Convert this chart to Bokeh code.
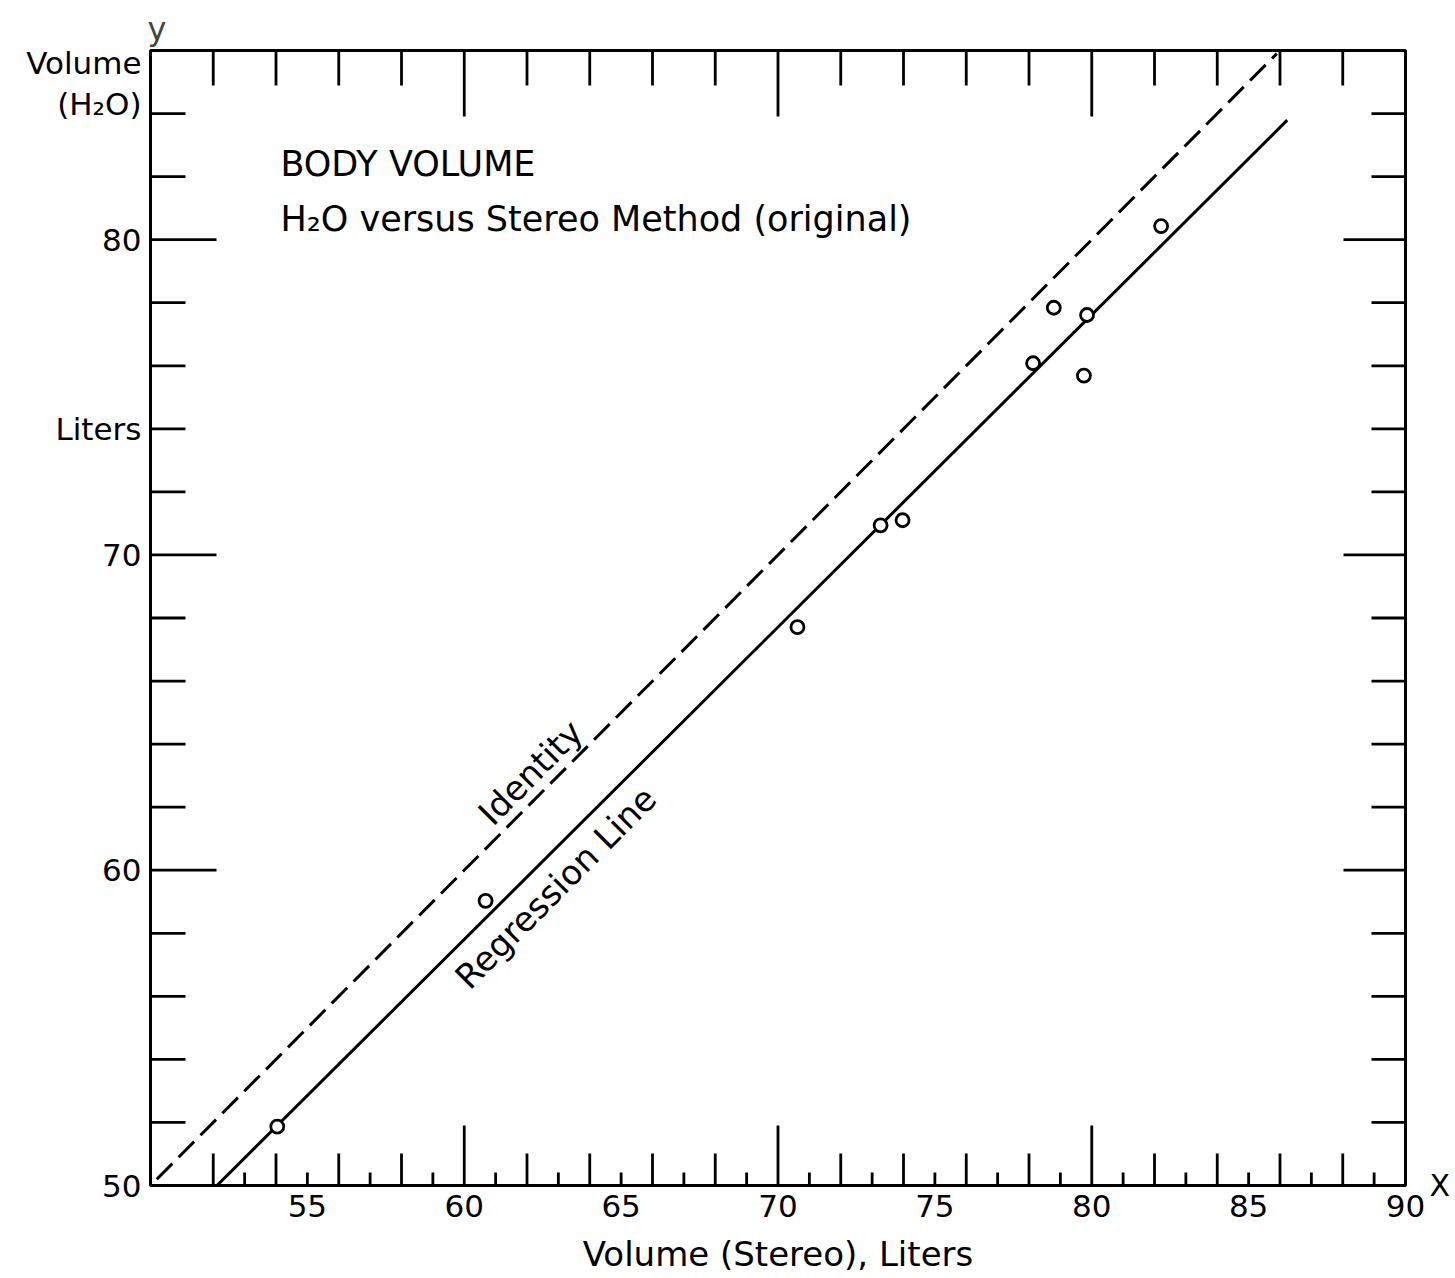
import math
from bokeh.plotting import figure
from bokeh.models import Range1d, FixedTicker, LinearAxis
from bokeh.core.properties import value
from bokeh.embed import file_html
from bokeh.resources import INLINE

# ---- data ----
stereo_x = [54.04, 60.68, 70.62, 73.27, 73.97, 78.13, 78.79, 79.75, 79.85, 82.21]
h2o_y = [51.87, 59.03, 67.71, 70.94, 71.10, 76.08, 77.84, 75.69, 77.61, 80.43]

identity_x = [50.2, 85.9]
identity_y = [50.2, 85.9]
regression_x = [52.12, 86.23]
regression_y = [50.0, 83.79]

x_tick_labels = [55, 60, 65, 70, 75, 80, 85, 90]
y_tick_values = [50, 60, 70, 74, 80, 84.3, 85.6]
y_tick_text = {50: "50", 74: "Liters", 84.3: "(H\u2082O)", 85.6: "Volume"}
bottom_ticks = list(range(52, 90))
top_ticks = list(range(52, 90, 2))
side_ticks = list(range(52, 86, 2))
long_ticks = [60, 70, 80]

FONT = "DejaVu Sans"

p = figure(width=1453, height=1278, output_backend="svg", toolbar_location=None,
           x_range=Range1d(50, 90), y_range=Range1d(50, 86),
           min_border_left=150, min_border_right=48, min_border_top=50, min_border_bottom=93)
p.background_fill_color = "white"
p.border_fill_color = "white"
p.outline_line_color = "black"
p.outline_line_width = 3
p.xgrid.grid_line_color = None
p.ygrid.grid_line_color = None

# "y" marker above the vertical axis
p.title.text = "y"
p.title.align = "left"
p.title.offset = -3
p.title.text_font = FONT
p.title.text_font_size = "32px"
p.title.text_font_style = "normal"
p.title.standoff = 6

# "X" marker right of the horizontal axis, via a right-side axis
xmark = LinearAxis(ticker=FixedTicker(ticks=[50]), major_label_overrides={50: "X"})
p.add_layout(xmark, "right")

for ax in (p.xaxis[0], p.yaxis[0], xmark):
    ax.major_tick_in = 0
    ax.major_tick_out = 0
    ax.major_tick_line_color = None
    ax.minor_tick_line_color = None
    ax.axis_line_color = None
    ax.major_label_text_font = FONT
    ax.major_label_text_font_size = "31px"
    ax.major_label_text_color = "black"
xmark.major_label_text_font_size = "30px"
xmark.major_label_standoff = 24

p.xaxis[0].ticker = FixedTicker(ticks=x_tick_labels)
p.xaxis[0].major_label_standoff = 9
p.xaxis[0].axis_label = "Volume (Stereo), Liters"
p.xaxis[0].axis_label_text_font = FONT
p.xaxis[0].axis_label_text_font_size = "34px"
p.xaxis[0].axis_label_text_font_style = "normal"
p.xaxis[0].axis_label_text_color = "black"
p.xaxis[0].axis_label_standoff = 14

p.yaxis[0].ticker = FixedTicker(ticks=y_tick_values)
p.yaxis[0].major_label_overrides = y_tick_text
p.yaxis[0].major_label_standoff = 9

# ---- tick marks drawn inward as rays (screen-length) ----
def tick_len(v, long_len, even_len, odd_len):
    if v in long_ticks:
        return long_len
    return even_len if v % 2 == 0 else odd_len

TW = 2.8
p.ray(x=bottom_ticks, y=[50] * len(bottom_ticks),
      length=[tick_len(v, 60, 32, 13) for v in bottom_ticks],
      angle=math.pi / 2, length_units="screen", line_color="black", line_width=TW)
p.ray(x=top_ticks, y=[86] * len(top_ticks),
      length=[tick_len(v, 66, 35, 35) for v in top_ticks],
      angle=-math.pi / 2, length_units="screen", line_color="black", line_width=TW)
p.ray(x=[50] * len(side_ticks), y=side_ticks,
      length=[tick_len(v, 66, 35, 35) for v in side_ticks],
      angle=0, length_units="screen", line_color="black", line_width=TW)
p.ray(x=[90] * len(side_ticks), y=side_ticks,
      length=[tick_len(v, 62, 34, 34) for v in side_ticks],
      angle=math.pi, length_units="screen", line_color="black", line_width=TW)

# ---- lines ----
p.line(identity_x, identity_y, line_color="black", line_width=3, line_dash="22 9")
p.line(regression_x, regression_y, line_color="black", line_width=3)

# ---- points ----
p.scatter(stereo_x, h2o_y, marker="circle", size=13, fill_color="white",
          line_color="black", line_width=2.8)

# ---- in-plot texts ----
p.text(x=[54.14, 54.14], y=[82.41, 80.67],
       text=["BODY VOLUME", "H\u2082O versus Stereo Method  (original)"],
       text_font=value(FONT), text_font_size="35px", text_color="black",
       text_align="left", text_baseline="middle")
p.text(x=[62.11, 62.91], y=[63.10, 59.45], text=["Identity", "Regression Line"],
       angle=45.14, angle_units="deg",
       text_font=value(FONT), text_font_size="34px", text_color="black",
       text_align="center", text_baseline="middle")

open("out.html", "w").write(file_html(p, INLINE))
